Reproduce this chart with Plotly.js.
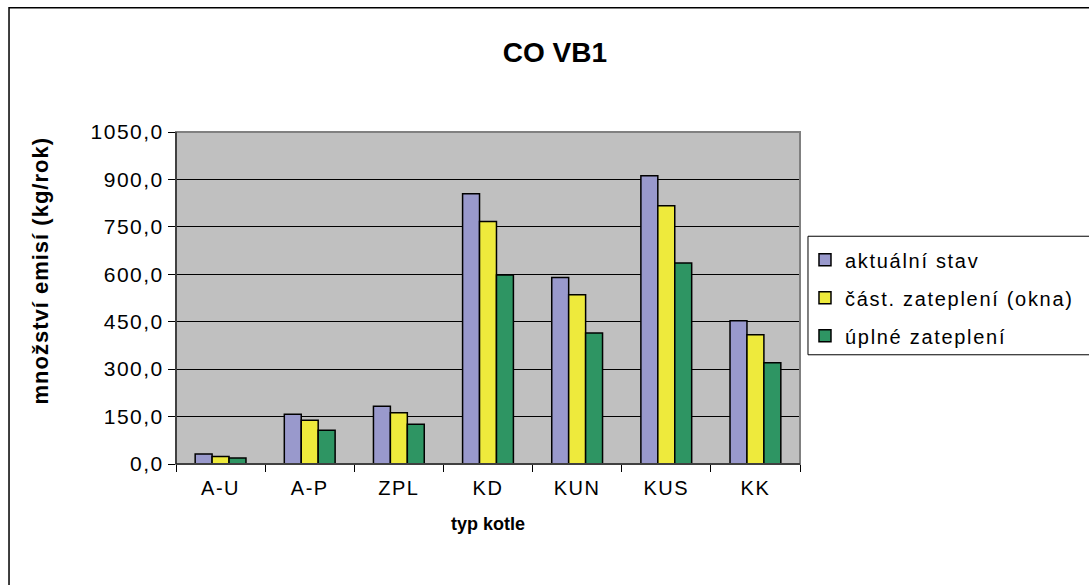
<!DOCTYPE html>
<html>
<head>
<meta charset="utf-8">
<script src="https://cdn.plot.ly/plotly-3.0.1.min.js"></script>
<style>
html,body{margin:0;padding:0;background:#fff;}
#chart{width:1089px;height:585px;}
.xtick text, .ytick text { letter-spacing: 1.5px; }
text.legendtext { letter-spacing: 1.7px; }
text.ytitle-ann { letter-spacing: 1px; }
</style>
</head>
<body>
<div id="chart"></div>
<script>
const categories = ["A-U", "A-P", "ZPL", "KD", "KUN", "KUS", "KK"];
const seriesNames = ["aktuální stav", "část. zateplení (okna)", "úplné zateplení"];
const aktualni = [31.5, 157, 182.5, 855, 590, 912, 453];
const castecne = [24, 138, 162, 767, 535, 817, 409];
const uplne = [19, 107, 126, 598, 414, 636, 320];
const yTicks = [0, 150, 300, 450, 600, 750, 900, 1050];

const colors = ["#9999CC", "#EEEA3C", "#2E9563"];
const font = "Liberation Sans, Arial, sans-serif";

const traces = [aktualni, castecne, uplne].map((vals, i) => ({
  type: "bar",
  name: seriesNames[i],
  legendgroup: "g" + i,
  x: categories,
  y: vals,
  marker: {color: colors[i], line: {color: "#000", width: 1.5}},
  hoverinfo: "x+y"
}));

const layout = {
  width: 1089, height: 585,
  margin: {l: 176, r: 289, t: 132, b: 121, autoexpand: false},
  paper_bgcolor: "#fff",
  plot_bgcolor: "#C0C0C0",
  font: {family: font, color: "#000", size: 20},
  separators: ",.",
  barmode: "group",
  bargap: 0.43,
  bargroupgap: 0,
  title: {text: "<b>CO VB1</b>", font: {size: 28, family: font}, x: 0.5096, xref: "container", xanchor: "center", y: 0.911, yanchor: "middle"},
  xaxis: {
    type: "category",
    tickson: "boundaries",
    ticks: "outside", ticklen: 7, tickcolor: "#000", tickwidth: 1,
    ticklabelstandoff: 6,
    showline: true, linecolor: "#000", linewidth: 1,
    showgrid: false,
    tickfont: {size: 20},
    title: {text: "<b>typ kotle</b>", font: {size: 18}, standoff: 19},
    fixedrange: true
  },
  yaxis: {
    range: [0, 1050],
    tickvals: yTicks,
    tickformat: ".1f",
    ticks: "outside", ticklen: 7, tickcolor: "#000", tickwidth: 1,
    showline: true, linecolor: "#000", linewidth: 1,
    showgrid: true, gridcolor: "#000", gridwidth: 1,
    zeroline: false,
    tickfont: {size: 21},
    fixedrange: true
  },
  annotations: [
    {text: "<b>množství emisí (kg/rok)</b>", textangle: -90, showarrow: false,
     xref: "paper", yref: "paper", x: (40 - 176) / 624, y: (464 - 271) / 332,
     xanchor: "center", yanchor: "middle", font: {size: 22}}
  ],
  legend: {
    x: 1.008, xanchor: "left", y: 0.674, yanchor: "top",
    borderwidth: 0, bgcolor: "rgba(0,0,0,0)",
    font: {size: 20},
    traceorder: "grouped",
    tracegroupgap: 9
  },
  shapes: [
    {type: "rect", xref: "paper", yref: "paper", x0: 0, x1: 1, y0: 0, y1: 1,
     line: {color: "#808080", width: 2}, layer: "above"},
    {type: "line", xref: "paper", yref: "paper", x0: 0, x1: 0, y0: 0, y1: 1,
     line: {color: "#000", width: 1}, layer: "above"},
    {type: "line", xref: "paper", yref: "paper", x0: 0, x1: 1, y0: 0, y1: 0,
     line: {color: "#000", width: 1}, layer: "above"},
    {type: "rect", xref: "paper", yref: "paper", x0: 1.0128, x1: 1.5, y0: 0.329, y1: 0.686,
     line: {color: "#000", width: 1}, layer: "below"},
    {type: "rect", xref: "paper", yref: "paper", x0: -0.2676, x1: 1.6, y0: -0.5, y1: 1.3746,
     line: {color: "#000", width: 1.5}, layer: "below"}
  ],
  showlegend: true
};

Plotly.newPlot("chart", traces, layout, {displayModeBar: false}).then(gd => {
  gd.querySelectorAll(".annotation-text").forEach(t => t.classList.add("ytitle-ann"));
});
</script>
</body>
</html>
